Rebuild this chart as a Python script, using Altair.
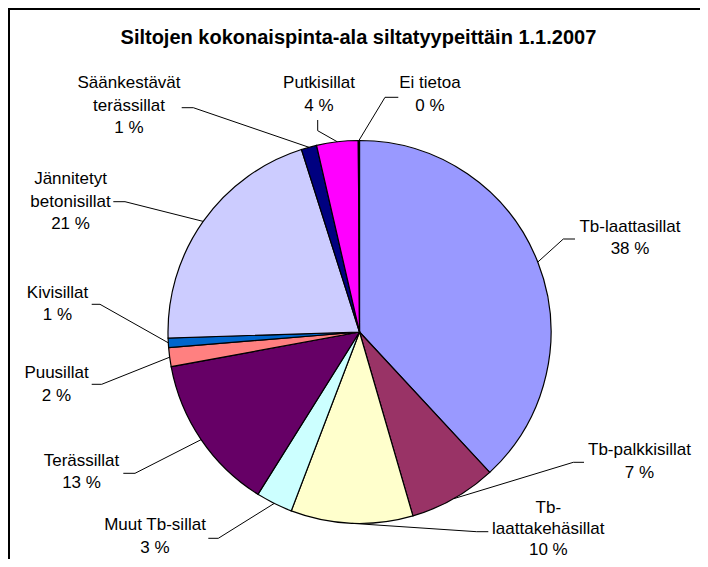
import math
import altair as alt
import pandas as pd

# ---------------- data ----------------
categories = ["Tb-laattasillat", "Tb-palkkisillat", "Tb-laattakehäsillat", "Muut Tb-sillat",
              "Terässillat", "Puusillat", "Kivisillat", "Jännitetyt betonisillat",
              "Säänkestävät terässillat", "Putkisillat", "Ei tietoa"]
shares = [38.1, 7.4, 10.3, 3.1, 13.2, 1.6, 0.8, 20.6, 1.3, 3.5, 0.1]
colors = ["#9999FF", "#993366", "#FFFFCC", "#CCFFFF", "#660066", "#FF8080",
          "#0066CC", "#CCCCFF", "#000080", "#FF00FF", "#FFFF00"]
title_text = "Siltojen kokonaispinta-ala siltatyypeittäin 1.1.2007"

# ---------------- layout (page pixels) ----------------
OX, OY = 8, 8            # view origin on the page
W, H = 692, 551          # view size
CX, CY, R = 359.5, 332.0, 191.5   # pie centre and radius
FONT = "Liberation Sans"

label_wrap = {
    "Tb-laattakehäsillat": ["Tb-", "laattakehäsillat"],
    "Jännitetyt betonisillat": ["Jännitetyt", "betonisillat"],
    "Säänkestävät terässillat": ["Säänkestävät", "terässillat"],
}
label_pos = {  # centre x, first-line y, line gap
    "Tb-laattasillat": (630, 226.7, 22.6),
    "Tb-palkkisillat": (639.5, 450, 22.6),
    "Tb-laattakehäsillat": (548.3, 508.3, 20.6),
    "Muut Tb-sillat": (155, 525, 22.6),
    "Terässillat": (81.5, 460.7, 22.6),
    "Puusillat": (56.5, 373.3, 22.6),
    "Kivisillat": (57.5, 293.3, 21.5),
    "Jännitetyt betonisillat": (70.5, 179.3, 22.2),
    "Säänkestävät terässillat": (129, 83.3, 22.5),
    "Putkisillat": (319, 83.3, 22.6),
    "Ei tietoa": (430, 83.3, 22.6),
}
leader_pts = {  # elbow, end
    "Tb-laattasillat": [(563.3, 239), (575, 239)],
    "Tb-palkkisillat": [(573.3, 462.3), (584, 462.3)],
    "Tb-laattakehäsillat": [(476.7, 531.7), (488.3, 531.7)],
    "Muut Tb-sillat": [(218.3, 538.3), (208.3, 538.3)],
    "Terässillat": [(135, 473.3), (123.3, 473.3)],
    "Puusillat": [(101.7, 384.3), (91.7, 384.3)],
    "Kivisillat": [(100, 304.3), (91.7, 304.3)],
    "Jännitetyt betonisillat": [(125, 201.7), (113.3, 201.7)],
    "Säänkestävät terässillat": [(193.3, 107.7), (181.7, 107.7)],
    "Putkisillat": [(317.7, 130.7), (317.7, 120)],
    "Ei tietoa": [(385, 97.3), (398.3, 97.3)],
}

# ---------------- tables ----------------
df = pd.DataFrame({"category": categories, "share": shares, "idx": range(len(categories))})
total = sum(shares)

text_rows, line_rows = [], []
cum = 0.0
for cat, v in zip(categories, shares):
    mid = (cum + v / 2) / total * 2 * math.pi
    cum += v
    ex, ey = CX + R * math.sin(mid), CY - R * math.cos(mid)
    lines = label_wrap.get(cat, [cat]) + [f"{int(v + 0.5)} %"]
    lx, ly, gap = label_pos[cat]
    for i, t in enumerate(lines):
        text_rows.append({"t": t, "x": lx, "y": ly + i * gap})
    pts = [(ex, ey)] + leader_pts[cat]
    for j, (px, py) in enumerate(pts):
        line_rows.append({"cat": cat, "o": j, "x": px, "y": py})

texts = pd.DataFrame(text_rows)
leaders = pd.DataFrame(line_rows)
title_df = pd.DataFrame({"t": [title_text], "x": [358.4], "y": [37.5]})

xs = alt.Scale(domain=[OX, OX + W], nice=False, zero=False)
ys = alt.Scale(domain=[OY, OY + H], nice=False, zero=False, reverse=True)

pie = alt.Chart(df).mark_arc(radius=R, stroke="black", strokeWidth=1.2).encode(
    theta=alt.Theta("share:Q", stack=True),
    color=alt.Color("category:N", scale=alt.Scale(domain=categories, range=colors), legend=None),
    order=alt.Order("idx:Q"),
    x=alt.value(CX - OX),
    y=alt.value(CY - OY),
)

lead = alt.Chart(leaders).mark_line(color="black", strokeWidth=1).encode(
    x=alt.X("x:Q", scale=xs, axis=None),
    y=alt.Y("y:Q", scale=ys, axis=None),
    detail="cat:N",
    order="o:Q",
)

labels = alt.Chart(texts).mark_text(font=FONT, fontSize=17, color="black",
                                    align="center", baseline="middle").encode(
    x=alt.X("x:Q", scale=xs, axis=None),
    y=alt.Y("y:Q", scale=ys, axis=None),
    text="t:N",
)

title = alt.Chart(title_df).mark_text(font=FONT, fontSize=20, fontWeight="bold", color="black",
                                      align="center", baseline="middle").encode(
    x=alt.X("x:Q", scale=xs, axis=None),
    y=alt.Y("y:Q", scale=ys, axis=None),
    text="t:N",
)

frame_data = alt.Data(values=[{}])
frame_top = alt.Chart(frame_data).mark_rule(color="black", strokeWidth=2).encode(
    x=alt.value(0), x2=alt.value(W), y=alt.value(1))
frame_left = alt.Chart(frame_data).mark_rule(color="black", strokeWidth=2).encode(
    x=alt.value(1), y=alt.value(0), y2=alt.value(H))

chart = alt.layer(pie, lead, labels, title, frame_top, frame_left).properties(
    width=W, height=H, padding=0,
    autosize=alt.AutoSizeParams(type="none"), background="white",
).configure_view(strokeWidth=0)

chart.save("out.html", embed_options={"renderer": "svg", "actions": False})
